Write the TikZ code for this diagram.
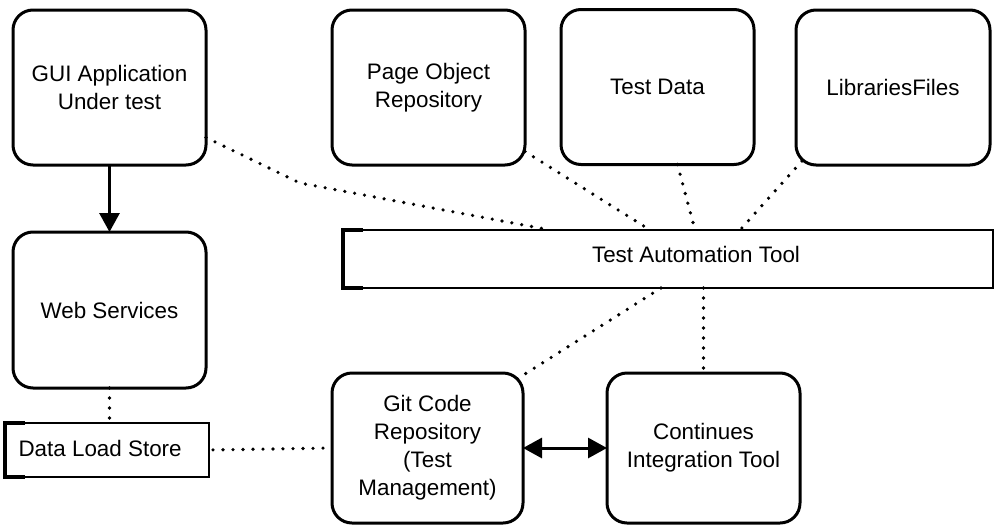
\documentclass[tikz,border=0pt]{standalone}
\usepackage{fontspec}
\setmainfont{Liberation Sans}
\usetikzlibrary{arrows.meta,calc}

\begin{document}
\begin{tikzpicture}[x=1pt,y=-1pt,
  every node/.style={font=\fontsize{22.4}{28}\selectfont, text=black},
  rbox/.style={draw, line width=3pt, rounded corners=20pt, outer sep=0pt,
               align=center, fill=white},
  thinbox/.style={draw, line width=1.5pt, outer sep=0pt, fill=white},
  dotline/.style={line width=3.6pt, dash pattern=on 0pt off 10pt, line cap=round},
  solidarrow/.style={line width=3pt, -{Triangle[length=19pt,width=20pt]}},
  bothways/.style={line width=3pt, {Triangle[length=19pt,width=20pt]}-{Triangle[length=19pt,width=20pt]}},
  bracket/.style={line width=4pt}
]
\useasboundingbox (0,0) rectangle (995,525);

% upper row of components
\node[rbox, minimum width=193pt, minimum height=155pt] (gui)   at (109.5,87.5) {GUI Application\\Under test};
\node[rbox, minimum width=193pt, minimum height=155pt] (pob)   at (428.5,87.5) {Page Object\\Repository};
\node[rbox, minimum width=193pt, minimum height=155pt] (tdata) at (657.5,87) {Test Data};
\node[rbox, minimum width=194pt, minimum height=155pt] (libs)  at (893,87.5)   {LibrariesFiles};

% web services and its data store
\node[rbox, minimum width=193pt, minimum height=156pt] (web) at (109.5,310) {Web Services};
\node[thinbox, minimum width=204pt, minimum height=54pt] (dls) at (107,450) {};
\node[anchor=west] (dlslabel) at (15,448) {Data Load Store};
\draw[bracket] ($(dls.north west)+(20,0)$) -- (dls.north west) -- (dls.south west) -- ($(dls.south west)+(20,0)$);

% central automation tool
\node[thinbox, minimum width=650pt, minimum height=58pt] (tat) at (668,259) {};
\node (tatlabel) at (696,254) {Test Automation Tool};
\draw[bracket] ($(tat.north west)+(20,0)$) -- (tat.north west) -- (tat.south west) -- ($(tat.south west)+(20,0)$);

% lower row
\node[rbox, minimum width=191pt, minimum height=150pt] (git) at (427.5,448) {Git Code\\Repository\\(Test\\Management)};
\node[rbox, minimum width=193pt, minimum height=150pt] (ci)  at (703.5,448) {Continues\\Integration Tool};

% bend of the link from the application under test
\coordinate (guibend) at (300,183);

% dotted links
\draw[dotline] ($(gui.east)+(0,50)$) -- (guibend) -- ($(tat.north)+(-118,0)$);
\draw[dotline] ($(pob.east)+(0,64)$) -- ($(tat.north)+(-18,0)$);
\draw[dotline] ($(tdata.south)+(20,0)$) -- ($(tat.north)+(27,0)$);
\draw[dotline] ($(libs.south west)+(6,-4)$) -- ($(tat.north)+(72,0)$);
\draw[dotline] ($(tat.south)+(-7,0)$) -- ($(git.north east)+(-6,6)$);
\draw[dotline] (ci.north |- tat.south) -- (ci.north);
\draw[dotline] (web.south) -- (web.south |- dls.north);
\draw[dotline, shorten <=4pt] (dls.east) -- (git.west);

% solid arrows
\draw[solidarrow] (gui.south) -- (web.north);
\draw[bothways] (git.east) -- (ci.west);
\end{tikzpicture}
\end{document}
